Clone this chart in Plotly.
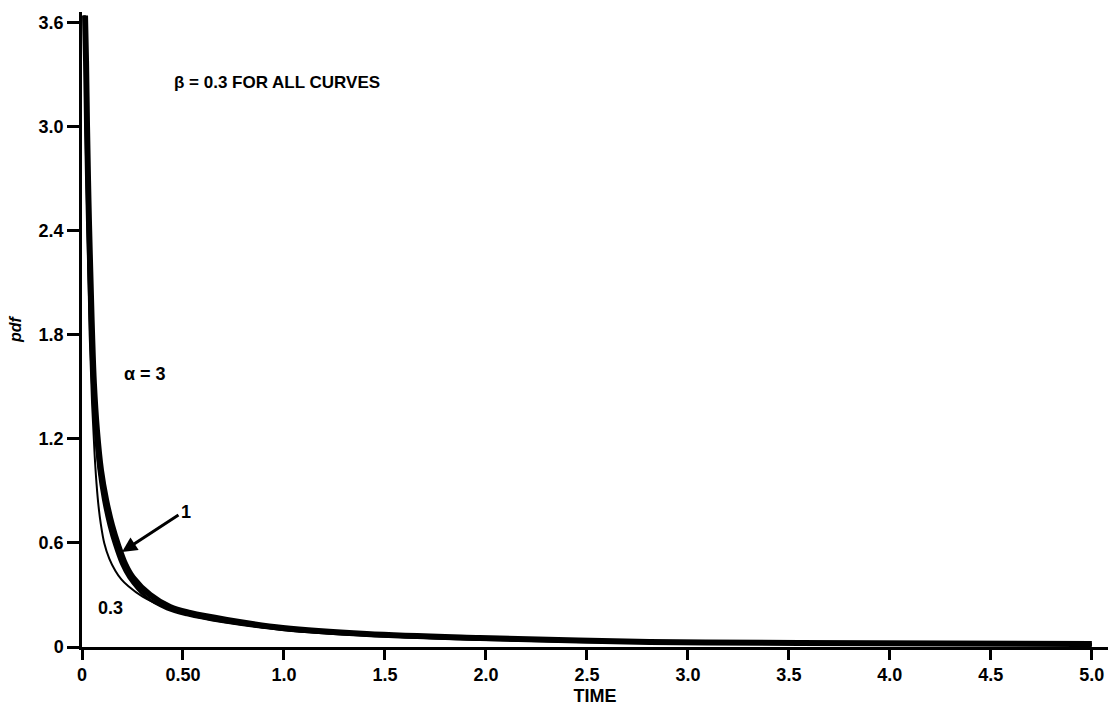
import plotly.graph_objects as go

# ---- data ----
t_a3 = [0.015, 0.020, 0.025, 0.030, 0.035, 0.045, 0.050, 0.059, 0.074, 0.094, 0.119, 0.149,
        0.178, 0.213, 0.252, 0.337, 0.436, 0.535, 0.718, 0.995, 1.41, 1.97, 2.81, 3.55, 5.0]
v_a3 = [3.64, 3.38, 3.00, 2.69, 2.43, 2.00, 1.80, 1.52, 1.25, 1.02, 0.85, 0.70,
        0.59, 0.48, 0.40, 0.30, 0.23, 0.196, 0.156, 0.110, 0.075, 0.052, 0.029, 0.023, 0.017]

t_a1 = [0.013, 0.017, 0.021, 0.026, 0.030, 0.039, 0.044, 0.053, 0.066, 0.084, 0.106, 0.134,
        0.161, 0.195, 0.232, 0.315, 0.42, 0.52, 0.70, 1.0, 1.41, 1.97, 2.81, 3.55, 5.0]
v_a1 = [3.64, 3.38, 3.00, 2.69, 2.43, 2.00, 1.80, 1.52, 1.25, 1.02, 0.85, 0.70,
        0.59, 0.48, 0.40, 0.29, 0.22, 0.185, 0.145, 0.100, 0.068, 0.046, 0.027, 0.021, 0.016]

t_a03 = [0.012, 0.017, 0.027, 0.038, 0.050, 0.062, 0.072, 0.082, 0.093, 0.110, 0.135, 0.165, 0.195,
         0.23, 0.30, 0.42, 0.60, 1.0, 1.5, 2.0, 2.5, 3.0, 4.0, 5.0]
v_a03 = [3.64, 3.00, 2.43, 1.80, 1.40, 1.12, 0.94, 0.81, 0.71, 0.60, 0.51, 0.44, 0.39,
         0.35, 0.29, 0.225, 0.165, 0.10, 0.062, 0.040, 0.028, 0.022, 0.016, 0.013]

x_tickvals = [0, 0.5, 1.0, 1.5, 2.0, 2.5, 3.0, 3.5, 4.0, 4.5, 5.0]
x_ticktext = ["0", "0.50", "1.0", "1.5", "2.0", "2.5", "3.0", "3.5", "4.0", "4.5", "5.0"]
y_tickvals = [0, 0.6, 1.2, 1.8, 2.4, 3.0, 3.6]
y_ticktext = ["0", "0.6", "1.2", "1.8", "2.4", "3.0", "3.6"]

FONT = "Liberation Sans"

fig = go.Figure()
fig.add_trace(go.Scatter(x=t_a3, y=v_a3, mode="lines", line=dict(color="black", width=6, shape="spline"),
                         name="α = 3", showlegend=False))
fig.add_trace(go.Scatter(x=t_a1, y=v_a1, mode="lines", line=dict(color="black", width=3, shape="spline"),
                         name="α = 1", showlegend=False))
fig.add_trace(go.Scatter(x=t_a03, y=v_a03, mode="lines", line=dict(color="black", width=2, shape="spline"),
                         name="α = 0.3", showlegend=False))

fig.update_layout(
    width=1108, height=712,
    margin=dict(l=82, r=0, t=12, b=65),
    paper_bgcolor="white", plot_bgcolor="white",
    font=dict(family=FONT, color="black", size=17),
    xaxis=dict(range=[0, 5.08], tickvals=x_tickvals, ticktext=x_ticktext,
               showline=True, linecolor="black", linewidth=2.5, ticks="outside",
               ticklen=10, tickwidth=2.5, tickcolor="black", showgrid=False, zeroline=False,
               tickfont=dict(family=FONT, size=18, color="black", weight="bold"),
               title=dict(text="<b>TIME</b>", font=dict(family=FONT, size=18), standoff=6)),
    yaxis=dict(range=[0, 3.66], tickvals=y_tickvals, ticktext=y_ticktext,
               showline=True, linecolor="black", linewidth=2.5, ticks="outside",
               ticklen=12, tickwidth=2.5, tickcolor="black", showgrid=False, zeroline=False,
               tickfont=dict(family=FONT, size=18, color="black", weight="bold"),
               title=dict(text="<b><i>pdf</i></b>", font=dict(family=FONT, size=16), standoff=14)),
    annotations=[
        dict(x=0.446, y=3.256, xref="x", yref="y", text="<b>β = 0.3 FOR ALL CURVES</b>",
             showarrow=False, xanchor="left", yanchor="middle", font=dict(size=17)),
        dict(x=0.312, y=1.573, xref="x", yref="y", text="<b>α = 3</b>",
             showarrow=False, xanchor="center", yanchor="middle", font=dict(size=18)),
        dict(x=0.515, y=0.778, xref="x", yref="y", text="<b>1</b>",
             showarrow=False, xanchor="center", yanchor="middle", font=dict(size=18)),
        dict(x=0.139, y=0.225, xref="x", yref="y", text="<b>0.3</b>",
             showarrow=False, xanchor="center", yanchor="middle", font=dict(size=18)),
        dict(x=0.198, y=0.548, xref="x", yref="y", ax=0.485, ay=0.767, axref="x", ayref="y",
             text="", showarrow=True, arrowhead=2, arrowsize=1, arrowwidth=3, arrowcolor="black"),
    ],
)

fig.write_html("out.html")
